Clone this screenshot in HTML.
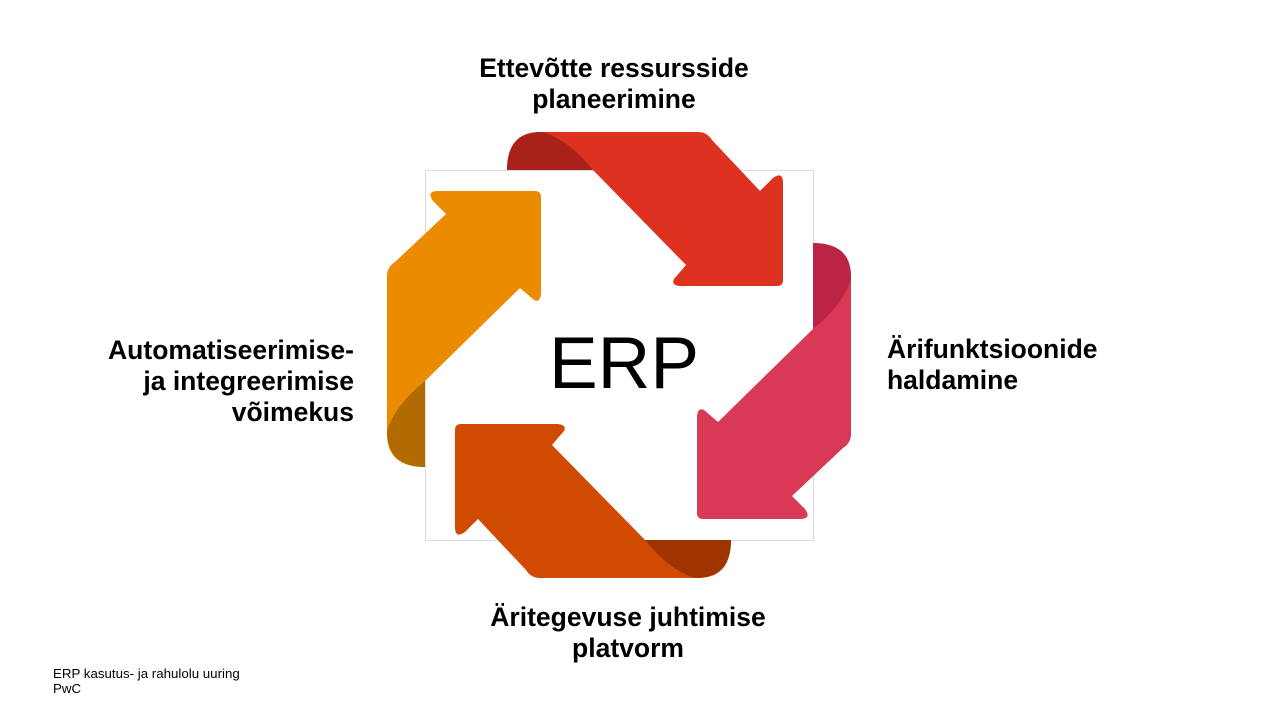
<!DOCTYPE html>
<html><head><meta charset="utf-8"><style>
body{margin:0;width:1265px;height:713px;background:#fff;position:relative;overflow:hidden;font-family:"Liberation Sans",sans-serif;}
.l{position:absolute;font-weight:bold;font-size:26.5px;line-height:31px;color:#000;}
.f{position:absolute;left:53px;top:666px;font-size:13.3px;line-height:15px;}
</style></head><body>
<svg width="1265" height="713" style="position:absolute;left:0;top:0">
<rect x="425.5" y="170.5" width="388" height="370" fill="#fff" stroke="#dcdcdc" stroke-width="1"/>
<defs>
<path id="a" d="M-112,-185 Q-112,-223 -79,-223 L79,-223 Q88,-223 93,-215 L141,-164 L154,-177 Q164,-184 164,-172 L164,-75 Q164,-69 158,-69 L61,-69 Q52,-70 55,-76 L67,-90 L-26,-185 Z"/>
<path id="d" d="M-112,-185 Q-112,-223 -76,-223 Q-50,-215 -26,-185 Z"/>
</defs>
<g transform="translate(619,355)">
<use href="#a" fill="#DE3220"/><use href="#d" fill="#A8221A"/>
<g transform="translate(9,0) rotate(90)"><use href="#a" fill="#D93954"/><use href="#d" fill="#BA2545"/></g>
<g transform="rotate(180)"><use href="#a" fill="#D04A02"/><use href="#d" fill="#9E3500"/></g>
<g transform="translate(-9,0) rotate(270)"><use href="#a" fill="#EB8C00"/><use href="#d" fill="#B26B00"/></g>
</g>
<text x="624" y="388" text-anchor="middle" font-family="Liberation Sans, sans-serif" font-size="73">ERP</text>
</svg>
<div class="l" style="left:414px;width:400px;top:53px;text-align:center">Ettevõtte ressursside<br>planeerimine</div>
<div class="l" style="left:887px;top:334px">Ärifunktsioonide<br>haldamine</div>
<div class="l" style="left:54px;width:300px;top:335px;text-align:right">Automatiseerimise-<br>ja integreerimise<br>võimekus</div>
<div class="l" style="left:428px;width:400px;top:602px;text-align:center">Äritegevuse juhtimise<br>platvorm</div>
<div class="f">ERP kasutus- ja rahulolu uuring<br>PwC</div>
</body></html>
